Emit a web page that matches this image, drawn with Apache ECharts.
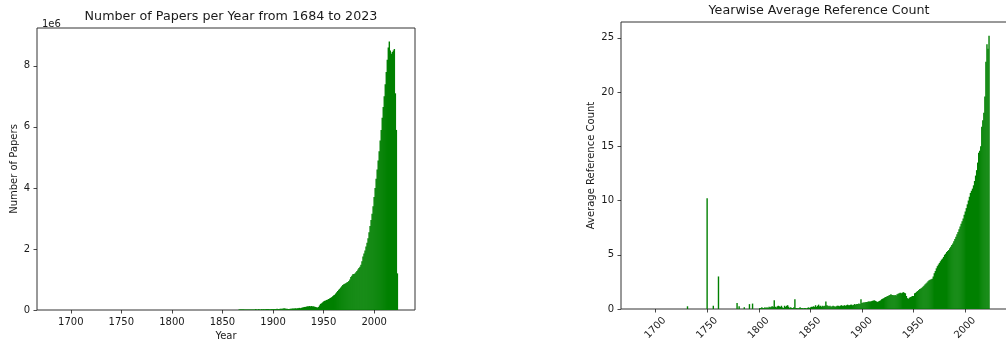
<!DOCTYPE html>
<html>
<head>
<meta charset="utf-8">
<script src="https://cdn.jsdelivr.net/npm/echarts@6/dist/echarts.min.js"></script>
<style>
  html, body { margin: 0; padding: 0; background: #fff; }
  #chart { width: 1006px; height: 341px; }
</style>
</head>
<body>
<div id="chart"></div>
<script>
// x tick years shared by both panels
const tickYears = [1700, 1750, 1800, 1850, 1900, 1950, 2000];
const paperTicks = [0, 2, 4, 6, 8];
const refTicks = [0, 5, 10, 15, 20, 25];

// left panel: papers per year (millions), one value per year from 1860 to 2023
const paperStartYear = 1860;
const papersMillions = [
  0, 0, 0, 0, 0, 0, 0.01, 0.02, 0.02, 0.02,
  0.02, 0.02, 0.02, 0.02, 0.02, 0.02, 0.02, 0.02, 0.02, 0.02,
  0.02, 0.02, 0.02, 0.03, 0.02, 0.02, 0.03, 0.02, 0.02, 0.03,
  0.02, 0.03, 0.02, 0.03, 0.03, 0.03, 0.03, 0.02, 0.03, 0.03,
  0.03, 0.03, 0.03, 0.03, 0.04, 0.03, 0.03, 0.04, 0.04, 0.04,
  0.05, 0.06, 0.05, 0.04, 0.04, 0.03, 0.03, 0.04, 0.04, 0.05,
  0.05, 0.05, 0.06, 0.05, 0.06, 0.06, 0.07, 0.06, 0.07, 0.08,
  0.09, 0.1, 0.1, 0.11, 0.12, 0.12, 0.13, 0.12, 0.13, 0.12,
  0.12, 0.11, 0.1, 0.09, 0.08, 0.1, 0.15, 0.2, 0.22, 0.25,
  0.28, 0.3, 0.31, 0.33, 0.34, 0.36, 0.38, 0.4, 0.42, 0.45,
  0.48, 0.5, 0.54, 0.58, 0.62, 0.66, 0.7, 0.74, 0.78, 0.82,
  0.84, 0.86, 0.88, 0.9, 0.92, 0.95, 1.0, 1.08, 1.12, 1.17,
  1.18, 1.2, 1.24, 1.28, 1.33, 1.38, 1.42, 1.48, 1.6, 1.75,
  1.85, 1.95, 2.08, 2.2, 2.35, 2.55, 2.75, 2.95, 3.15, 3.4,
  3.7, 4.0, 4.3, 4.6, 4.9, 5.2, 5.55, 5.9, 6.3, 6.65,
  7.0, 7.4, 7.8, 8.2, 8.6, 8.8, 8.5, 8.4, 8.45, 8.5,
  8.55, 7.1, 5.9, 1.2
];

// right panel: sparse early years, then one value per year from 1800 to 2023
const refEarlyYears = [1731, 1750, 1756, 1761, 1779, 1781, 1786, 1791, 1794];
const refEarlyValues = [0.25, 10.2, 0.3, 3.0, 0.55, 0.25, 0.15, 0.45, 0.5];
const refStartYear = 1800;
const refValues = [
  0, 0.1, 0.1, 0.15, 0.1, 0.1, 0.15, 0.1, 0.15, 0.1,
  0.2, 0.15, 0.2, 0.25, 0.2, 0.8, 0.2, 0.15, 0.25, 0.3,
  0.25, 0.2, 0.3, 0.15, 0.1, 0.3, 0.2, 0.3, 0.35, 0.2,
  0.1, 0.15, 0.1, 0.1, 0.15, 0.9, 0.1, 0.1, 0.05, 0.1,
  0.15, 0.1, 0.1, 0.05, 0.1, 0.1, 0.05, 0.1, 0.15, 0.1,
  0.15, 0.2, 0.2, 0.25, 0.2, 0.35, 0.2, 0.3, 0.4, 0.25,
  0.3, 0.2, 0.3, 0.25, 0.3, 0.7, 0.35, 0.3, 0.25, 0.3,
  0.2, 0.25, 0.3, 0.25, 0.2, 0.25, 0.3, 0.3, 0.25, 0.3,
  0.35, 0.3, 0.3, 0.35, 0.3, 0.35, 0.4, 0.35, 0.35, 0.4,
  0.4, 0.35, 0.4, 0.45, 0.4, 0.45, 0.45, 0.5, 0.45, 0.9,
  0.55, 0.6, 0.6, 0.62, 0.65, 0.65, 0.68, 0.7, 0.7, 0.72,
  0.75, 0.78, 0.8, 0.75, 0.7, 0.65, 0.7, 0.75, 0.8, 0.9,
  0.95, 1.0, 1.05, 1.1, 1.15, 1.2, 1.25, 1.3, 1.35, 1.3,
  1.3, 1.25, 1.3, 1.25, 1.35, 1.4, 1.45, 1.5, 1.45, 1.5,
  1.55, 1.5, 1.45, 1.2, 1.0, 0.95, 1.05, 1.1, 1.15, 1.2,
  1.2, 1.45, 1.5, 1.6, 1.65, 1.75, 1.85, 1.9, 1.95, 2.05,
  2.15, 2.25, 2.35, 2.45, 2.55, 2.65, 2.7, 2.75, 2.8, 3.0,
  3.3, 3.5, 3.75, 3.95, 4.1, 4.25, 4.4, 4.55, 4.65, 4.8,
  5.0, 5.1, 5.25, 5.35, 5.45, 5.6, 5.75, 5.9, 6.05, 6.25,
  6.45, 6.65, 6.9, 7.1, 7.35, 7.6, 7.85, 8.1, 8.35, 8.7,
  9.0, 9.3, 9.65, 10.0, 10.35, 10.7, 10.9, 11.1, 11.4, 11.8,
  12.3, 12.8, 13.5, 14.4, 14.6, 15.0, 16.8, 17.4, 18.1, 19.6,
  22.8, 24.4, 24.0, 25.2
];

const green = "#008000";
const ink = "#1a1a1a";
const font = "DejaVu Sans";

const paperData = papersMillions.map((v, i) => [paperStartYear + i, v]);
const refData = refEarlyYears
  .map((y, i) => [y, refEarlyValues[i]])
  .concat(refValues.map((v, i) => [refStartYear + i, v]));

const chart = echarts.init(document.getElementById("chart"));

const plain = (v) => String(v);
const tickStyle = { length: 3.5, lineStyle: { color: ink, width: 0.8 } };
const labelStyle = { color: ink, fontFamily: font, fontSize: 10, formatter: plain };
const titleStyle = { color: ink, fontFamily: font, fontSize: 12.7, fontWeight: "normal" };
const frame = { show: true, borderColor: "#333", borderWidth: 1, backgroundColor: "transparent", outerBoundsMode: "none" };

const xAxisBase = {
  type: "value",
  min: 1666.6,
  max: 2040.4,
  axisLine: { show: false },
  axisTick: { ...tickStyle, customValues: tickYears },
  splitLine: { show: false },
};

const yAxisBase = {
  type: "value",
  min: 0,
  axisLine: { show: false },
  splitLine: { show: false },
  nameLocation: "middle",
  nameTextStyle: { color: ink, fontFamily: font, fontSize: 10 },
};

chart.setOption({
  animation: false,
  backgroundColor: "#fff",
  title: [
    { text: "Number of Papers per Year from 1684 to 2023", left: 226, top: 5, textAlign: "center", textStyle: titleStyle },
    { text: "Yearwise Average Reference Count", left: 814, top: -1, textAlign: "center", textStyle: titleStyle },
    {
      text: "1e6",
      left: 37,
      top: 14,
      textStyle: { color: ink, fontFamily: font, fontSize: 10, fontWeight: "normal" },
    },
  ],
  grid: [
    { ...frame, left: 37, top: 28, width: 378, height: 282 },
    { ...frame, left: 621, top: 22, width: 386, height: 287 },
  ],
  xAxis: [
    {
      ...xAxisBase,
      gridIndex: 0,
      name: "Year",
      nameLocation: "middle",
      nameGap: 19,
      nameTextStyle: { color: ink, fontFamily: font, fontSize: 10 },
      axisLabel: { ...labelStyle, customValues: tickYears, margin: 7 },
    },
    {
      ...xAxisBase,
      gridIndex: 1,
      axisLabel: {
        ...labelStyle,
        customValues: tickYears,
        rotate: 45,
        align: "center",
        verticalAlign: "middle",
        margin: 19,
      },
    },
  ],
  yAxis: [
    {
      ...yAxisBase,
      gridIndex: 0,
      max: 9.24,
      name: "Number of Papers",
      nameGap: 17,
      axisTick: { ...tickStyle, customValues: paperTicks },
      axisLabel: { ...labelStyle, customValues: paperTicks, margin: 7 },
    },
    {
      ...yAxisBase,
      gridIndex: 1,
      max: 26.46,
      name: "Average Reference Count",
      nameGap: 25,
      axisTick: { ...tickStyle, customValues: refTicks },
      axisLabel: { ...labelStyle, customValues: refTicks, margin: 7 },
    },
  ],
  series: [
    {
      type: "bar",
      xAxisIndex: 0,
      yAxisIndex: 0,
      data: paperData,
      barWidth: 1.4,
      itemStyle: { color: green },
    },
    {
      type: "bar",
      xAxisIndex: 1,
      yAxisIndex: 1,
      data: refData,
      barWidth: 1.4,
      itemStyle: { color: green },
    },
  ],
});
</script>
</body>
</html>
